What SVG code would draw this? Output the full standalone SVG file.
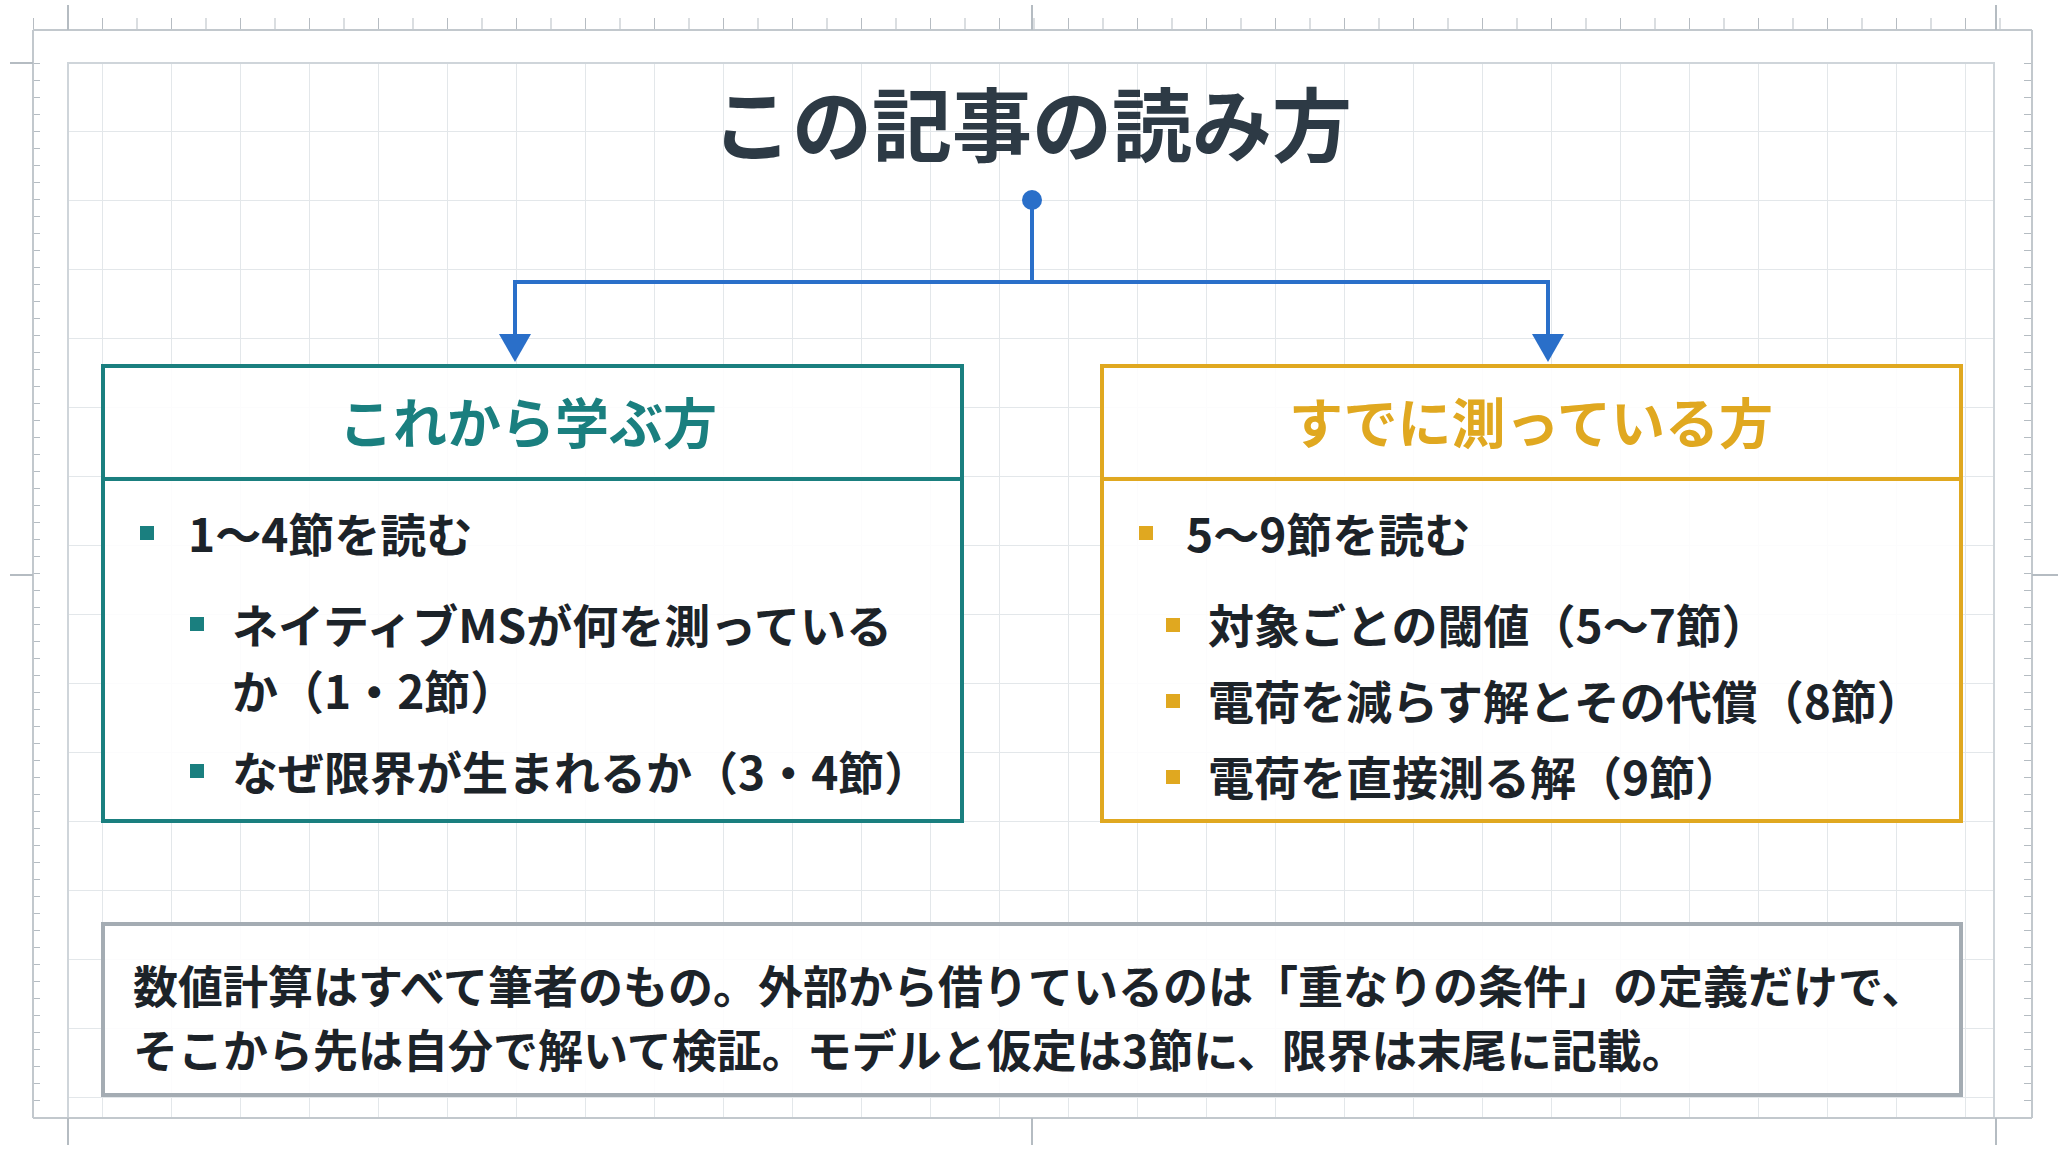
<svg xmlns="http://www.w3.org/2000/svg" width="2064" height="1152" viewBox="0 0 2064 1152">
<defs>
<pattern id="grid" x="102" y="200" width="69" height="69" patternUnits="userSpaceOnUse"><path d="M0 0V69M0 0H69" fill="none" stroke="#e3e7ea" stroke-width="2"/></pattern>
<pattern id="tickx" x="33" y="0" width="34.5" height="40" patternUnits="userSpaceOnUse"><path d="M0 18V30" stroke="#b5bcc2" stroke-width="2"/></pattern>
<pattern id="ticky" x="0" y="63" width="40" height="17" patternUnits="userSpaceOnUse"><path d="M33 0H47" stroke="#b5bcc2" stroke-width="2"/></pattern>
</defs>
<style>
text{font-family:"Noto Sans CJK JP","Noto Sans",sans-serif;font-weight:700;fill:#1c2329}
.t{font-size:80px;fill:#2d3a45}
.h{font-size:54px}
.i{font-size:46px}
.b{font-size:45px}
.box{fill:#fff;fill-opacity:0.88;stroke-width:4}
</style>
<rect width="2064" height="1152" fill="#fff"/>
<rect x="68" y="63" width="1926" height="1055" fill="url(#grid)" stroke="#cfd5da" stroke-width="2"/>
<rect x="33" y="0" width="1999" height="30" fill="url(#tickx)"/>
<rect x="2032" y="0" width="0" height="0"/>
<rect x="0" y="63" width="50" height="1050" fill="url(#ticky)"/>
<rect x="2000" y="63" width="50" height="1050" fill="url(#ticky)" transform="translate(4064 0) scale(-1 1)"/>
<path d="M33 30H2032M33 30V1118M33 1118H2032M2032 30V1118" fill="none" stroke="#c2c8cd" stroke-width="2"/>
<path d="M68 5V30M1032 5V30M1996 5V30M10 63H33M10 575H33M2032 575H2058M68 1118V1145M1032 1118V1145M1996 1118V1145" stroke="#b5bcc2" stroke-width="2"/>
<text class="t" x="1032" y="155" text-anchor="middle">この記事の読み方</text>
<g id="connectors" fill="none" stroke="#2a6fc9" stroke-width="4">
<circle cx="1032" cy="200" r="10" fill="#2a6fc9" stroke="none"/>
<path d="M1032 200V282H515V340"/>
<path d="M1032 282H1548V340"/>
<polygon points="499,334 531,334 515,362" fill="#2a6fc9" stroke="none"/>
<polygon points="1532,334 1564,334 1548,362" fill="#2a6fc9" stroke="none"/>
</g>
<g id="left">
<rect class="box" x="103" y="366" width="859" height="455" stroke="#1a7f7f"/>
<line x1="103" y1="479" x2="962" y2="479" stroke="#1a7f7f" stroke-width="4"/>
<text class="h" x="528" y="444" text-anchor="middle" style="fill:#1a7f7f">これから学ぶ方</text>
<rect x="140" y="526" width="14" height="14" fill="#1a7f7f"/>
<text class="i" x="188" y="552">1〜4節を読む</text>
<rect x="190" y="617" width="14" height="14" fill="#1a7f7f"/>
<text class="i" x="232" y="643">ネイティブMSが何を測っている</text>
<text class="i" x="232" y="709">か（1・2節）</text>
<rect x="190" y="764" width="14" height="14" fill="#1a7f7f"/>
<text class="i" x="232" y="790">なぜ限界が生まれるか（3・4節）</text>
</g>
<g id="right">
<rect class="box" x="1102" y="366" width="859" height="455" stroke="#e0a820"/>
<line x1="1102" y1="479" x2="1961" y2="479" stroke="#e0a820" stroke-width="4"/>
<text class="h" x="1531" y="444" text-anchor="middle" style="fill:#e0a820">すでに測っている方</text>
<rect x="1139" y="526" width="14" height="14" fill="#e0a820"/>
<text class="i" x="1186" y="552">5〜9節を読む</text>
<rect x="1166" y="618" width="14" height="14" fill="#e0a820"/>
<text class="i" x="1208" y="643">対象ごとの閾値（5〜7節）</text>
<rect x="1166" y="694" width="14" height="14" fill="#e0a820"/>
<text class="i" x="1208" y="719">電荷を減らす解とその代償（8節）</text>
<rect x="1166" y="770" width="14" height="14" fill="#e0a820"/>
<text class="i" x="1208" y="795">電荷を直接測る解（9節）</text>
</g>
<g id="note">
<rect class="box" x="103" y="924" width="1858" height="171" stroke="#a4acb3"/>
<text class="b" x="133" y="1004">数値計算はすべて筆者のもの。外部から借りているのは「重なりの条件」の定義だけで、</text>
<text class="b" x="133" y="1068">そこから先は自分で解いて検証。モデルと仮定は3節に、限界は末尾に記載。</text>
</g>
</svg>
